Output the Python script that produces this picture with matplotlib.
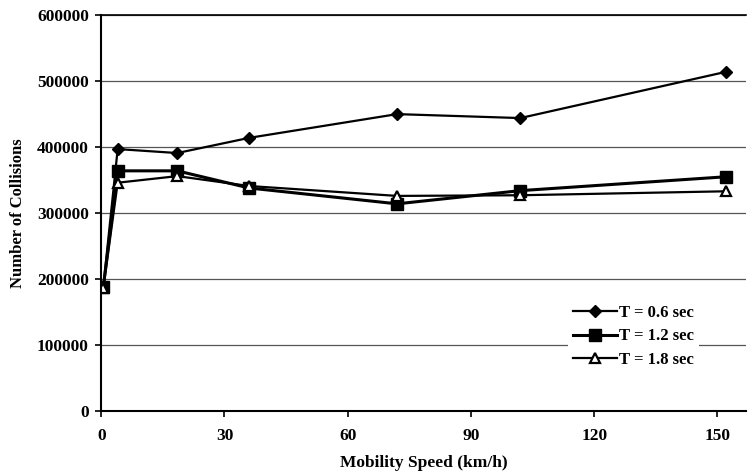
import matplotlib.pyplot as plt

# mobility speed (km/h)
speed = [0.5, 4, 18.5, 36, 72, 102, 152]
# number of collisions for each T
coll_06 = [188000, 397000, 391000, 414000, 450000, 444000, 514000]
coll_12 = [188000, 364000, 364000, 338000, 314000, 334000, 355000]
coll_18 = [186000, 346000, 356000, 341000, 326000, 327000, 333000]
labels = ['T = 0.6 sec', 'T = 1.2 sec', 'T = 1.8 sec']

plt.rcParams['font.family'] = 'Liberation Serif'
plt.rcParams['font.weight'] = 'bold'

fig = plt.figure(figsize=(7.5, 4.74), dpi=100)
ax = fig.add_axes([0.135, 0.133, 0.86, 0.835])

ax.plot(speed, coll_06, color='black', lw=1.6, marker='D', ms=6, label=labels[0])
ax.plot(speed, coll_12, color='black', lw=2.2, marker='s', ms=8, label=labels[1])
ax.plot(speed, coll_18, color='black', lw=1.6, marker='^', ms=7, mfc='white',
        mew=1.6, label=labels[2])

ax.set_xlim(0, 157)
ax.set_ylim(0, 600000)
ax.set_xticks([0, 30, 60, 90, 120, 150])
ax.set_yticks(range(0, 600001, 100000))
ax.yaxis.grid(True, color='#555555', lw=0.9)
ax.set_axisbelow(True)
ax.spines['right'].set_visible(False)
ax.spines['top'].set_linewidth(1.2)
ax.spines['left'].set_linewidth(1.5)
ax.spines['bottom'].set_linewidth(1.5)
ax.tick_params(labelsize=12.5, length=4, width=1.2)
ax.tick_params(axis='x', pad=8)
ax.tick_params(axis='y', pad=5)

ax.set_xlabel('Mobility Speed (km/h)', fontsize=12.5, fontweight='bold', labelpad=8)
ax.set_ylabel('Number of Collisions', fontsize=12, fontweight='bold', labelpad=8)

# legend has a white box without border, so it hides the gridline behind it
leg = ax.legend(loc='lower right', bbox_to_anchor=(0.94, 0.075), frameon=True,
                fancybox=False, facecolor='white', edgecolor='none', framealpha=1,
                fontsize=12, handlelength=2.6, labelspacing=0.45,
                handletextpad=0.15, borderpad=0.3)

plt.savefig('out.png', dpi=100)
